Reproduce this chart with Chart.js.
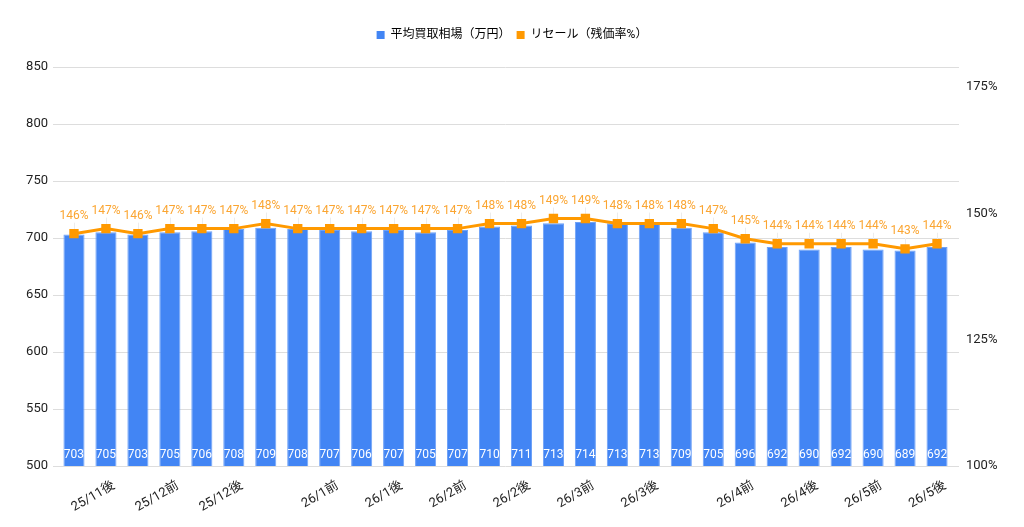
<!DOCTYPE html>
<html>
<head>
<meta charset="utf-8">
<script src="https://cdn.jsdelivr.net/npm/chart.js@4"></script>
<style>
html,body{margin:0;padding:0;background:#fff;overflow:hidden;}
canvas{display:block;}
</style>
</head>
<body>
<canvas id="c" width="1024" height="527"></canvas>
<script>
const categories = ['25/11後','25/11後','25/12前','25/12前','25/12後','25/12後','25/12後','26/1前','26/1前','26/1後','26/1後','26/2前','26/2前','26/2後','26/2後','26/3前','26/3前','26/3後','26/3後','26/3後','26/4前','26/4前','26/4後','26/4後','26/5前','26/5前','26/5後','26/5後'];
const tickLabels = ['','25/11後','','25/12前','','25/12後','','','26/1前','','26/1後','','26/2前','','26/2後','','26/3前','','26/3後','','','26/4前','','26/4後','','26/5前','','26/5後'];
const priceValues = [703,705,703,705,706,708,709,708,707,706,707,705,707,710,711,713,714,713,713,709,705,696,692,690,692,690,689,692];
const resaleValues = [146,147,146,147,147,147,148,147,147,147,147,147,147,148,148,149,149,148,148,148,147,145,144,144,144,144,143,144];
const leftTicks = [500,550,600,650,700,750,800,850];
const rightTicks = [100,125,150,175];

const FONT = 'Roboto, "Noto Sans CJK JP", sans-serif';

const labelPlugin = {
  id: 'valueLabels',
  beforeInit(chart) {
    const lg = chart.legend;
    if (lg) {
      const orig = lg.fit.bind(lg);
      lg.fit = function () { orig(); this.height += 16; };
    }
  },
  beforeDatasetsDraw(chart) {
    const ctx = chart.ctx, ys = chart.scales.y, ca = chart.chartArea;
    ctx.save();
    ctx.strokeStyle = '#dddddd';
    ctx.lineWidth = 1;
    leftTicks.forEach(v => {
      const py = Math.round(ys.getPixelForValue(v)) + 0.5;
      ctx.beginPath();
      ctx.moveTo(ca.right, py);
      ctx.lineTo(ca.right + 6, py);
      ctx.stroke();
    });
    // faint stems from annotation text to the points
    ctx.strokeStyle = '#ececec';
    chart.getDatasetMeta(1).data.forEach(el => {
      const px = Math.round(el.x) + 0.5;
      ctx.beginPath();
      ctx.moveTo(px, el.y - 11);
      ctx.lineTo(px, el.y);
      ctx.stroke();
    });
    ctx.restore();
  },
  afterDatasetsDraw(chart) {
    const ctx = chart.ctx;
    ctx.save();
    const barMeta = chart.getDatasetMeta(0);
    const baseY = chart.scales.y.getPixelForValue(500);
    ctx.font = '12px ' + FONT;
    ctx.fillStyle = '#ffffff';
    ctx.textAlign = 'center';
    ctx.textBaseline = 'middle';
    barMeta.data.forEach((el, i) => {
      ctx.fillText(String(priceValues[i]), el.x, baseY - 11);
    });
    const lineMeta = chart.getDatasetMeta(1);
    ctx.font = '12px ' + FONT;
    ctx.fillStyle = '#FBA531';
    lineMeta.data.forEach((el, i) => {
      ctx.fillText(resaleValues[i] + '%', el.x, el.y - 18);
    });
    ctx.restore();
  }
};

new Chart(document.getElementById('c'), {
  data: {
    labels: categories,
    datasets: [
      {
        type: 'bar',
        label: '平均買取相場（万円）',
        data: priceValues,
        backgroundColor: '#4285F4',
        borderColor: '#6fa2f7',
        borderWidth: {left:1,right:1,top:1,bottom:0},
        yAxisID: 'y',
        order: 2,
        categoryPercentage: 0.66,
        barPercentage: 1.0
      },
      {
        type: 'line',
        label: 'リセール（残価率%）',
        data: resaleValues,
        borderColor: '#FF9900',
        backgroundColor: '#FF9900',
        borderWidth: 3,
        pointStyle: 'rect',
        pointRadius: 4.5,
        pointHoverRadius: 4.5,
        tension: 0,
        yAxisID: 'y1',
        order: 1
      }
    ]
  },
  options: {
    responsive: false,
    animation: false,
    devicePixelRatio: 1,
    layout: { padding: { top: 23, bottom: 0, left: 0, right: 0 } },
    plugins: {
      legend: {
        display: true,
        position: 'top',
        labels: {
          font: { size: 12, family: FONT },
          color: '#222',
          usePointStyle: true,
          pointStyle: 'rect',
          boxWidth: 8,
          boxHeight: 8,
          padding: 6,
          generateLabels(chart) {
            return chart.data.datasets.map((ds, i) => ({
              text: ds.label,
              fillStyle: i === 0 ? '#4285F4' : '#FF9900',
              strokeStyle: i === 0 ? '#4285F4' : '#FF9900',
              lineWidth: 0,
              pointStyle: 'rect',
              datasetIndex: i
            }));
          }
        }
      },
      tooltip: { enabled: false }
    },
    scales: {
      x: {
        grid: { display: false },
        border: { display: false },
        ticks: {
          autoSkip: false,
          maxRotation: 30,
          minRotation: 30,
          font: { size: 13, family: FONT },
          color: '#222',
          padding: 4,
          labelOffset: 8,
          callback: (v, i) => tickLabels[i]
        },
        afterFit(s) { s.height = 61; }
      },
      y: {
        position: 'left',
        min: 500,
        max: 850,
        afterBuildTicks(s) { s.ticks = leftTicks.map(v => ({ value: v })); },
        grid: { color: '#dddddd', lineWidth: 1, drawTicks: true, tickLength: 5, tickColor: '#dddddd' },
        border: { display: false },
        ticks: { font: { size: 13, family: FONT }, color: '#222', padding: 5 },
        afterFit(s) { s.width = 58; }
      },
      y1: {
        position: 'right',
        min: 100,
        max: 179,
        afterBuildTicks(s) { s.ticks = rightTicks.map(v => ({ value: v })); },
        grid: { display: false, drawTicks: false },
        border: { display: false },
        ticks: { font: { size: 13, family: FONT }, color: '#222', padding: 13, callback: v => v + '%' },
        afterFit(s) { s.width = 71; }
      }
    }
  },
  plugins: [labelPlugin]
});
</script>
</body>
</html>
